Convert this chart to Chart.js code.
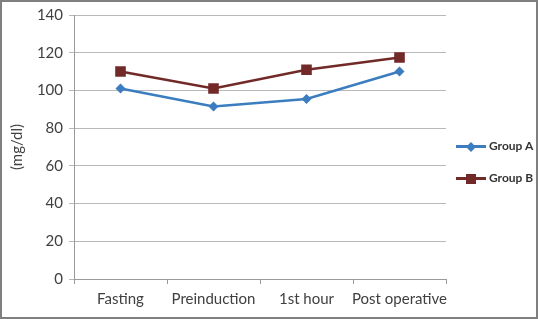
<!DOCTYPE html>
<html>
<head>
<meta charset="utf-8">
<script src="https://cdn.jsdelivr.net/npm/chart.js@4/dist/chart.umd.min.js"></script>
<style>
  html, body { margin: 0; padding: 0; background: #fff; }
  #wrap { position: relative; width: 538px; height: 319px; box-sizing: border-box; border: 2px solid #7f7f7f; }
  #c { position: absolute; left: -2px; top: -2px; }
  .legend { position: absolute; left: 454px; font-family: Lato, "Open Sans", sans-serif; font-size: 12px; font-weight: bold; color: #333; }
  .legend .ln { display: inline-block; position: relative; width: 30px; height: 3px; vertical-align: middle; margin-right: 3px; }
  .legend .mk { position: absolute; left: 50%; top: 50%; }
</style>
</head>
<body>
<div id="wrap">
  <canvas id="c" width="538" height="319"></canvas>
  <div class="legend" style="top:136px"><span class="ln" style="background:#3b7dbf"><span class="mk" style="width:7px;height:7px;background:#3b7dbf;transform:translate(-50%,-50%) rotate(45deg)"></span></span>Group A</div>
  <div class="legend" style="top:168px"><span class="ln" style="background:#722a29"><span class="mk" style="width:10px;height:10px;background:#722a29;transform:translate(-50%,-50%)"></span></span>Group B</div>
</div>
<script>
// categories and values
const timePoints = ["Fasting", "Preinduction", "1st hour", "Post operative"];
const groupA = [101, 91.5, 95.5, 110];
const groupB = [110, 101, 111, 117.5];
const yTicks = [0, 20, 40, 60, 80, 100, 120, 140];

const blue = "#3b7dbf";
const maroon = "#722a29";
const labelFont = { family: "Lato, 'Open Sans', sans-serif", size: 15 };

new Chart(document.getElementById("c"), {
  type: "line",
  data: {
    labels: timePoints,
    datasets: [{
      label: "Group A",
      data: groupA,
      borderColor: blue,
      backgroundColor: blue,
      borderWidth: 2.5,
      pointStyle: "rectRot",
      pointRadius: 5,
      pointBorderWidth: 0,
      tension: 0
    }, {
      label: "Group B",
      data: groupB,
      borderColor: maroon,
      backgroundColor: maroon,
      borderWidth: 2.5,
      pointStyle: "rect",
      pointRadius: 7.5,
      pointBorderWidth: 0,
      tension: 0
    }]
  },
  options: {
    responsive: false,
    animation: false,
    layout: { padding: { left: 0, right: 92, top: 13, bottom: 0 } },
    plugins: { legend: { display: false }, tooltip: { enabled: false } },
    scales: {
      x: {
        offset: true,
        grid: { offset: true, drawOnChartArea: false, drawTicks: true, tickLength: 5, color: "#9a9a9a" },
        border: { color: "#9a9a9a", width: 1 },
        ticks: { color: "#404040", font: labelFont, padding: 6, maxRotation: 0, autoSkip: false },
        afterFit: function(scale) { scale.height = 40; }
      },
      y: {
        min: 0,
        max: 140,
        afterBuildTicks: function(scale) { scale.ticks = yTicks.map(v => ({ value: v })); },
        grid: { color: "#b8b8b8", tickLength: 5 },
        border: { color: "#9a9a9a", width: 1 },
        ticks: { color: "#404040", font: labelFont, padding: 6 },
        title: { display: true, text: "(mg/dl)", color: "#404040", font: { family: "Lato, 'Open Sans', sans-serif", size: 15 }, padding: { top: 8, bottom: 0 } },
        afterFit: function(scale) { scale.width = 74; }
      }
    }
  }
});
</script>
</body>
</html>
